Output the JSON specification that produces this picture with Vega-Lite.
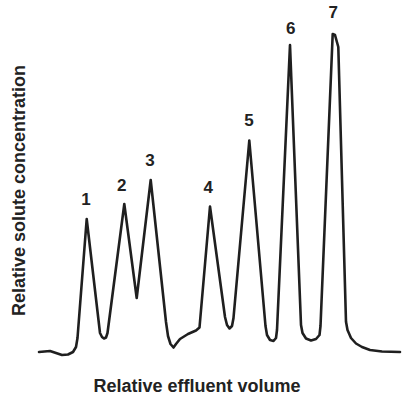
{
  "$schema": "https://vega.github.io/schema/vega-lite/v6.json",
  "width": 364,
  "height": 370,
  "autosize": {"type": "none"},
  "padding": {"left": 38, "top": 0, "right": 0, "bottom": 26},
  "config": {"view": {"stroke": null}, "font": "Liberation Sans"},
  "layer": [
    {
      "data": {"values": [
        {"volume": 1, "conc": 18}, {"volume": 12, "conc": 19}, {"volume": 18, "conc": 17},
        {"volume": 24, "conc": 15}, {"volume": 30, "conc": 15.5}, {"volume": 35, "conc": 18},
        {"volume": 38, "conc": 23}, {"volume": 39.5, "conc": 32}, {"volume": 48.7, "conc": 151},
        {"volume": 62, "conc": 37}, {"volume": 64, "conc": 33}, {"volume": 66, "conc": 31.5},
        {"volume": 68, "conc": 32.5}, {"volume": 69.5, "conc": 37}, {"volume": 86.3, "conc": 166},
        {"volume": 98.7, "conc": 72}, {"volume": 112.7, "conc": 190}, {"volume": 128, "conc": 48},
        {"volume": 130, "conc": 34}, {"volume": 132.5, "conc": 26}, {"volume": 135.5, "conc": 22.5},
        {"volume": 138, "conc": 26}, {"volume": 142, "conc": 31}, {"volume": 150, "conc": 36},
        {"volume": 158, "conc": 39.5}, {"volume": 161.5, "conc": 42.5}, {"volume": 172, "conc": 163.5},
        {"volume": 187, "conc": 53}, {"volume": 189, "conc": 45}, {"volume": 191.5, "conc": 41.5},
        {"volume": 194, "conc": 44}, {"volume": 195.5, "conc": 52}, {"volume": 211.3, "conc": 229.5},
        {"volume": 227.5, "conc": 44}, {"volume": 229, "conc": 35}, {"volume": 232, "conc": 30},
        {"volume": 235.5, "conc": 29}, {"volume": 238, "conc": 32}, {"volume": 239, "conc": 40},
        {"volume": 252, "conc": 325}, {"volume": 263, "conc": 45}, {"volume": 264.5, "conc": 37},
        {"volume": 268, "conc": 31.5}, {"volume": 273, "conc": 29.5}, {"volume": 278, "conc": 31},
        {"volume": 281.5, "conc": 35}, {"volume": 282.5, "conc": 44}, {"volume": 294.7, "conc": 336},
        {"volume": 297, "conc": 335}, {"volume": 300.3, "conc": 323}, {"volume": 308, "conc": 48.3},
        {"volume": 309.5, "conc": 40}, {"volume": 313, "conc": 32}, {"volume": 318, "conc": 26.5},
        {"volume": 324, "conc": 23}, {"volume": 332, "conc": 20}, {"volume": 344, "conc": 18.5},
        {"volume": 362, "conc": 18}
      ]},
      "mark": {"type": "line", "color": "#1f1f1f", "strokeWidth": 2.6, "strokeJoin": "round", "strokeCap": "round"},
      "encoding": {
        "x": {"field": "volume", "type": "quantitative", "scale": {"domain": [0, 364], "nice": false, "zero": false},
              "axis": {"title": "Relative effluent volume", "domain": false, "ticks": false, "labels": false, "grid": false,
                       "titleFontSize": 18, "titleFontWeight": "bold", "titleColor": "#222", "titlePadding": 7, "titleX": 158.5}},
        "y": {"field": "conc", "type": "quantitative", "scale": {"domain": [0, 370], "nice": false, "zero": false},
              "axis": {"title": "Relative solute concentration", "domain": false, "ticks": false, "labels": false, "grid": false,
                       "titleFontSize": 18, "titleFontWeight": "bold", "titleColor": "#222", "titlePadding": 10, "titleY": 190}}
      }
    },
    {
      "data": {"values": [
        {"volume": 48, "conc": 170, "peak": "1"},
        {"volume": 83.7, "conc": 184, "peak": "2"},
        {"volume": 112, "conc": 209, "peak": "3"},
        {"volume": 170.3, "conc": 182, "peak": "4"},
        {"volume": 211, "conc": 249, "peak": "5"},
        {"volume": 252.7, "conc": 341.5, "peak": "6"},
        {"volume": 295.3, "conc": 357, "peak": "7"}
      ]},
      "mark": {"type": "text", "fontSize": 17, "fontWeight": "bold", "baseline": "middle", "align": "center", "color": "#222"},
      "encoding": {
        "x": {"field": "volume", "type": "quantitative"},
        "y": {"field": "conc", "type": "quantitative"},
        "text": {"field": "peak"}
      }
    }
  ]
}
